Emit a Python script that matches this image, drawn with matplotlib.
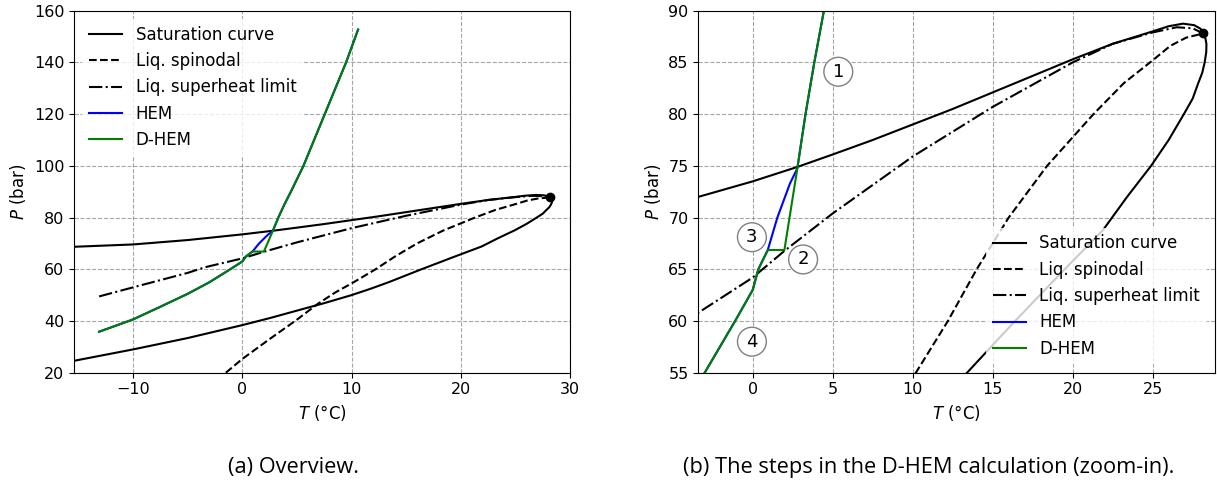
# Phase diagram with HEM / D-HEM paths, overview + zoom-in
import numpy as np
import matplotlib.pyplot as plt

# saturation curve: bubble branch -> critical point -> dew branch
sat_T = [-15.4, -10, -5, -3.4, 0, 2.8, 5, 7.5, 10, 12.5, 15, 17.5, 20, 22.5, 25, 26, 26.9, 27.6, 28.0,
         28.16, 28.3, 28.36, 28.35, 28.25, 28.1, 27.85, 27.5, 26.95, 26.0, 24.9, 23.4, 21.9, 19.5, 16.4, 13.4, 11.7,
         10, 7.5, 5, 2.5, 0, -5, -10, -15.4]
sat_P = [68.7, 69.6, 71.3, 72.0, 73.5, 74.9, 76.1, 77.5, 79.0, 80.5, 82.1, 83.7, 85.3, 86.8, 88.0, 88.5, 88.75, 88.6, 88.25,
         87.8, 87.3, 86.8, 86.0, 85.0, 84.0, 83.0, 81.5, 80.0, 77.5, 75.0, 72.0, 68.8, 65.0, 60.0, 55.0, 52.4,
         50.0, 46.9, 44.0, 41.1, 38.4, 33.4, 29.0, 24.6]

# liquid spinodal
spin_T = [-1.5, 0, 2.5, 5, 6.9, 8.5, 10.2, 12.2, 14.0, 16.0, 18.4, 21.3, 23.2, 25.0, 26.1, 27.1, 28.16]
spin_P = [20, 25.3, 33, 40.5, 46.6, 51, 55, 60, 65, 70, 75, 80, 83, 85.2, 86.6, 87.4, 87.8]

# liquid superheat limit
shl_T = [-13.1, -10, -5, -3.4, 0, 2, 5, 10, 15, 20, 22.5, 25, 26.5, 27.5, 28.16]
shl_P = [49.5, 53, 58.6, 60.8, 64.2, 66.8, 70.4, 75.9, 80.7, 85.0, 86.8, 87.9, 88.4, 88.3, 87.8]

# HEM path
hem_T = [-13.1, -10, -7.5, -5, -3, -1.1, 0, 0.35, 0.94, 1.54, 2.33, 2.79, 3.3, 3.85, 4.45, 5.6, 7.55, 9.5, 10.6]
hem_P = [35.85, 40.6, 45.5, 50.5, 55, 60, 63, 65, 66.86, 70, 73.3, 74.76, 80, 85, 90, 100, 120, 140, 152.7]

# D-HEM path
dhem_T = [-13.1, -10, -7.5, -5, -3, -1.1, 0, 0.35, 0.94, 1.98, 2.79, 3.3, 3.85, 4.45, 5.6, 7.55, 9.5, 10.6]
dhem_P = [35.85, 40.6, 45.5, 50.5, 55, 60, 63, 65, 66.86, 66.86, 74.76, 80, 85, 90, 100, 120, 140, 152.7]

crit_T, crit_P = 28.16, 87.8

# step labels in the zoom-in
step_labels = ["1", "2", "3", "4"]
step_T = [5.35, 3.15, -0.05, -0.05]
step_P = [84.1, 65.95, 68.1, 58.0]

fig = plt.figure(figsize=(12.17, 4.87), dpi=100)
ax1 = fig.add_axes([0.0608, 0.2347, 0.4076, 0.7433])
ax2 = fig.add_axes([0.5738, 0.2347, 0.4246, 0.7433])


def draw(ax):
    ax.plot(sat_T, sat_P, color="black", lw=1.5, label="Saturation curve")
    ax.plot(spin_T, spin_P, color="black", lw=1.5, ls="--", label="Liq. spinodal")
    ax.plot(shl_T, shl_P, color="black", lw=1.5, ls="-.", label="Liq. superheat limit")
    ax.plot(hem_T, hem_P, color="blue", lw=1.5, label="HEM")
    ax.plot(dhem_T, dhem_P, color="green", lw=1.5, label="D-HEM")
    ax.plot(crit_T, crit_P, "o", color="black", ms=6)
    ax.grid(True, ls="--", color="gray", alpha=0.7, lw=0.8)
    ax.set_xlabel(r"$T$ (°C)", fontsize=12)
    ax.set_ylabel(r"$P$ (bar)", fontsize=12)
    ax.tick_params(labelsize=11.5)


draw(ax1)
ax1.set_xlim(-15.4, 30)
ax1.set_ylim(20, 160)
ax1.set_xticks([-10, 0, 10, 20, 30])
leg1 = ax1.legend(loc="upper left", fontsize=12, framealpha=0.8)
leg1.get_frame().set_edgecolor("none")

draw(ax2)
ax2.set_xlim(-3.4, 28.9)
ax2.set_ylim(55, 90)
ax2.set_xticks([0, 5, 10, 15, 20, 25])
for s, t, p in zip(step_labels, step_T, step_P):
    ax2.text(t, p, s, fontsize=13, ha="center", va="center",
             bbox=dict(boxstyle="circle,pad=0.3", fc="white", ec="gray", lw=1))
leg2 = ax2.legend(loc="lower right", fontsize=12, framealpha=0.8)
leg2.get_frame().set_edgecolor("none")

# sub-figure captions
fig.text(294 / 1217, 1 - 468 / 487, "(a) Overview.", ha="center", va="center", fontsize=15.7, family="Open Sans")
fig.text(929 / 1217, 1 - 468 / 487, "(b) The steps in the D-HEM calculation (zoom-in).", ha="center", va="center",
         fontsize=15.7, family="Open Sans")

fig.savefig("out.png", dpi=100)
